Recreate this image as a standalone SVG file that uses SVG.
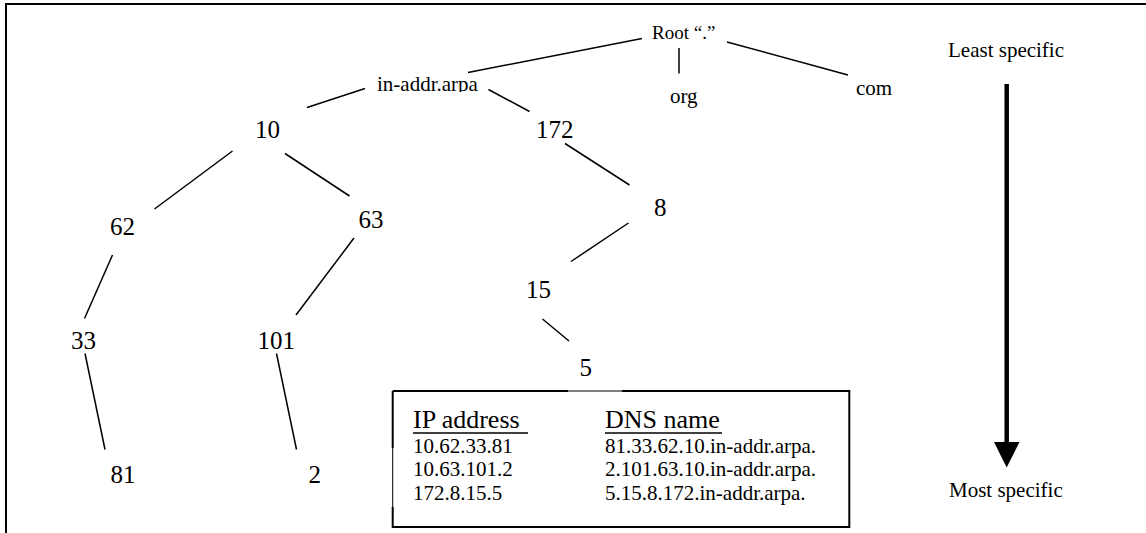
<svg xmlns="http://www.w3.org/2000/svg" width="1146" height="533" viewBox="0 0 1146 533">
  <style>
    .lbl { font-family: "Liberation Serif", "Times New Roman", serif; fill: #000; }
    .num { font-size: 25px; }
    .sm { font-size: 21px; }
    .hd { font-size: 26px; }
    .row { font-size: 21px; }
    .edge { stroke: #000; stroke-width: 1.5; fill: none; stroke-linecap: butt; }
    .frame { stroke: #000; stroke-width: 2; fill: none; }
  </style>
  <defs>
    <clipPath id="clipArpa">
      <rect x="370" y="60" width="120" height="32"/>
    </clipPath>
  </defs>

  <rect x="0" y="0" width="1146" height="533" fill="#fff"/>

  <!-- outer frame: top and left edges only -->
  <g id="frame">
    <line class="frame" x1="5" y1="4" x2="1146" y2="4"/>
    <line class="frame" x1="6" y1="3" x2="6" y2="533"/>
  </g>

  <!-- tree edges -->
  <g id="connectors">
    <line class="edge" x1="468" y1="72.5" x2="642" y2="38.5"/>
    <line class="edge" x1="679" y1="48" x2="679" y2="73.5"/>
    <line class="edge" x1="727" y1="42" x2="848" y2="75"/>
    <line class="edge" x1="307" y1="107.5" x2="365" y2="88.5"/>
    <line class="edge" x1="488.5" y1="89.5" x2="529.5" y2="111.5"/>
    <line class="edge" x1="232.5" y1="151" x2="154.5" y2="209"/>
    <line class="edge" x1="285" y1="153.5" x2="349.5" y2="196"/>
    <line class="edge" x1="565" y1="143.5" x2="629.5" y2="185"/>
    <line class="edge" x1="628.5" y1="223" x2="571" y2="261.5"/>
    <line class="edge" x1="112.5" y1="255" x2="84.5" y2="318.5"/>
    <line class="edge" x1="354" y1="238" x2="296" y2="315"/>
    <line class="edge" x1="542.5" y1="319" x2="569" y2="341"/>
    <line class="edge" x1="85" y1="353.5" x2="105" y2="449.5"/>
    <line class="edge" x1="276.5" y1="353.5" x2="296.5" y2="449.5"/>
  </g>

  <!-- tree nodes -->
  <g id="node-root"><text class="lbl" x="652" y="39" style="font-size:19px">Root “.”</text></g>
  <g id="node-inaddr"><text class="lbl sm" x="377" y="91" clip-path="url(#clipArpa)">in-addr.arpa</text></g>
  <g id="node-org"><text class="lbl sm" x="670" y="103">org</text></g>
  <g id="node-com"><text class="lbl sm" x="856" y="95">com</text></g>
  <g id="node-10"><text class="lbl num" x="255" y="138">10</text></g>
  <g id="node-172"><text class="lbl num" x="536" y="138">172</text></g>
  <g id="node-62"><text class="lbl num" x="110" y="235">62</text></g>
  <g id="node-63"><text class="lbl num" x="358.5" y="228">63</text></g>
  <g id="node-8"><text class="lbl num" x="654" y="216">8</text></g>
  <g id="node-15"><text class="lbl num" x="526" y="298">15</text></g>
  <g id="node-33"><text class="lbl num" x="71" y="349">33</text></g>
  <g id="node-101"><text class="lbl num" x="257.5" y="349">101</text></g>
  <g id="node-5"><text class="lbl num" x="579.5" y="376">5</text></g>
  <g id="node-81"><text class="lbl num" x="110.5" y="483">81</text></g>
  <g id="node-2"><text class="lbl num" x="308.5" y="483">2</text></g>

  <!-- specificity scale -->
  <g id="scale">
    <text class="lbl sm" x="948" y="57">Least specific</text>
    <line x1="1006.7" y1="84" x2="1006.7" y2="443" stroke="#000" stroke-width="4.5"/>
    <polygon points="994,442 1019.5,442 1006.7,467.5" fill="#000"/>
    <text class="lbl sm" x="949" y="497">Most specific</text>
  </g>

  <!-- address / name table -->
  <g id="table">
    <path d="M392.7 391 H568 M622 391 H849.3 V527 H392.7 V507 M392.7 448 V391" stroke="#000" stroke-width="2" fill="none"/>
    <path d="M568 391 H622 M392.7 448 V507" stroke="#000" stroke-width="1" fill="none"/>
    <text class="lbl hd" x="413" y="428">IP address</text>
    <line x1="413" y1="433" x2="528" y2="433" stroke="#000" stroke-width="1.5"/>
    <text class="lbl hd" x="605" y="428">DNS name</text>
    <line x1="605" y1="433" x2="722" y2="433" stroke="#000" stroke-width="1.5"/>
    <text class="lbl row" x="413" y="453">10.62.33.81</text>
    <text class="lbl row" x="413" y="475.5">10.63.101.2</text>
    <text class="lbl row" x="413" y="499.5">172.8.15.5</text>
    <text class="lbl row" x="605" y="453">81.33.62.10.in-addr.arpa.</text>
    <text class="lbl row" x="605" y="475.5">2.101.63.10.in-addr.arpa.</text>
    <text class="lbl row" x="605" y="499.5">5.15.8.172.in-addr.arpa.</text>
  </g>
</svg>
